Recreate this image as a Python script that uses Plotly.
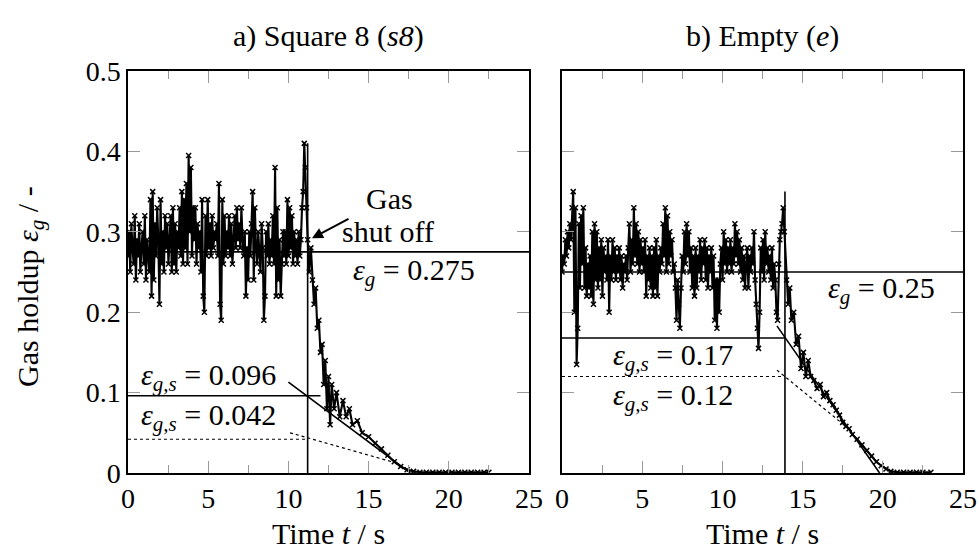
import plotly.graph_objects as go

# ---------------- data ----------------
# a) Square 8 (s8): time [s], gas holdup [-]
t_a = [0.00, 0.07, 0.14, 0.21, 0.28, 0.35, 0.42, 0.49, 0.56, 0.63,
       0.70, 0.77, 0.84, 0.91, 0.98, 1.05, 1.12, 1.19, 1.26, 1.33,
       1.40, 1.47, 1.54, 1.61, 1.68, 1.75, 1.82, 1.89, 1.96, 2.03,
       2.10, 2.17, 2.24, 2.31, 2.38, 2.45, 2.52, 2.59, 2.66, 2.73,
       2.80, 2.87, 2.94, 3.01, 3.08, 3.15, 3.22, 3.29, 3.36, 3.43,
       3.50, 3.57, 3.64, 3.71, 3.78, 3.85, 3.92, 3.99, 4.06, 4.13,
       4.20, 4.27, 4.34, 4.41, 4.48, 4.55, 4.62, 4.69, 4.76, 4.83,
       4.90, 4.97, 5.04, 5.11, 5.18, 5.25, 5.32, 5.39, 5.46, 5.53,
       5.60, 5.67, 5.74, 5.81, 5.88, 5.95, 6.02, 6.09, 6.16, 6.23,
       6.30, 6.37, 6.44, 6.51, 6.58, 6.65, 6.72, 6.79, 6.86, 6.93,
       7.00, 7.07, 7.14, 7.21, 7.28, 7.35, 7.42, 7.49, 7.56, 7.63,
       7.70, 7.77, 7.84, 7.91, 7.98, 8.05, 8.12, 8.19, 8.26, 8.33,
       8.40, 8.47, 8.54, 8.61, 8.68, 8.75, 8.82, 8.89, 8.96, 9.03,
       9.10, 9.17, 9.24, 9.31, 9.38, 9.45, 9.52, 9.59, 9.66, 9.73,
       9.80, 9.87, 9.94, 10.01, 10.08, 10.15, 10.22, 10.29, 10.36, 10.43,
       10.50, 10.57, 10.64, 10.71, 10.78, 10.85, 10.92, 10.99, 11.06, 11.13,
       11.20, 11.30, 11.40, 11.50, 11.60, 11.70, 11.80, 11.90, 12.00,
       12.10, 12.20, 12.30, 12.40, 12.50, 12.60, 12.70, 12.85, 13.00, 13.20, 13.40, 13.60, 13.80, 14.00, 14.30,
       14.60, 15.00, 15.40, 15.80, 16.20, 16.60, 17.00, 17.40, 17.80, 18.20, 18.60, 19.00, 19.40, 19.80, 20.20,
       20.60, 21.00, 21.40, 21.80, 22.20, 22.50]
eg_a = [0.27, 0.30, 0.25, 0.31, 0.28, 0.26, 0.32, 0.24, 0.29, 0.27,
        0.31, 0.25, 0.28, 0.30, 0.26, 0.32, 0.24, 0.29, 0.27, 0.25,
        0.34, 0.22, 0.35, 0.24, 0.31, 0.27, 0.33, 0.29, 0.21, 0.34,
        0.26, 0.30, 0.25, 0.32, 0.28, 0.31, 0.26, 0.29, 0.32, 0.25,
        0.33, 0.26, 0.31, 0.25, 0.30, 0.28, 0.33, 0.27, 0.35, 0.26,
        0.34, 0.28, 0.36, 0.26, 0.395, 0.30, 0.38, 0.27, 0.33, 0.29,
        0.33, 0.26, 0.31, 0.28, 0.30, 0.25, 0.34, 0.22, 0.20, 0.32,
        0.27, 0.34, 0.28, 0.31, 0.27, 0.32, 0.28, 0.30, 0.29, 0.31,
        0.27, 0.36, 0.21, 0.19, 0.34, 0.26, 0.32, 0.27, 0.30, 0.28,
        0.32, 0.27, 0.31, 0.26, 0.29, 0.32, 0.28, 0.33, 0.29, 0.31,
        0.28, 0.33, 0.29, 0.27, 0.30, 0.22, 0.28, 0.24, 0.30, 0.27,
        0.31, 0.35, 0.24, 0.33, 0.28, 0.26, 0.30, 0.27, 0.25, 0.31,
        0.28, 0.19, 0.22, 0.30, 0.27, 0.31, 0.26, 0.29, 0.27, 0.32,
        0.26, 0.38, 0.22, 0.33, 0.24, 0.29, 0.22, 0.26, 0.30, 0.27,
        0.30, 0.26, 0.34, 0.27, 0.33, 0.28, 0.32, 0.26, 0.30, 0.27,
        0.29, 0.26, 0.30, 0.27, 0.29, 0.33, 0.35, 0.41, 0.38, 0.33,
        0.29, 0.25, 0.28, 0.24, 0.21, 0.23, 0.18, 0.19, 0.15,
        0.16, 0.11, 0.14, 0.08, 0.12, 0.06, 0.11, 0.08, 0.10, 0.07, 0.09, 0.07, 0.08, 0.06, 0.065,
        0.05, 0.045, 0.037, 0.030, 0.022, 0.014, 0.008, 0.004, 0.002, 0.001, 0.001, 0.001, 0.001, 0.001, 0.001,
        0.001, 0.001, 0.001, 0.001, 0.001, 0.001]

# b) Empty (e)
t_b = [0.00, 0.07, 0.14, 0.21, 0.28, 0.35, 0.42, 0.49, 0.56, 0.63,
       0.70, 0.77, 0.84, 0.91, 0.98, 1.05, 1.12, 1.19, 1.26, 1.33,
       1.40, 1.47, 1.54, 1.61, 1.68, 1.75, 1.82, 1.89, 1.96, 2.03,
       2.10, 2.17, 2.24, 2.31, 2.38, 2.45, 2.52, 2.59, 2.66, 2.73,
       2.80, 2.87, 2.94, 3.01, 3.08, 3.15, 3.22, 3.29, 3.36, 3.43,
       3.50, 3.57, 3.64, 3.71, 3.78, 3.85, 3.92, 3.99, 4.06, 4.13,
       4.20, 4.27, 4.34, 4.41, 4.48, 4.55, 4.62, 4.69, 4.76, 4.83,
       4.90, 4.97, 5.04, 5.11, 5.18, 5.25, 5.32, 5.39, 5.46, 5.53,
       5.60, 5.67, 5.74, 5.81, 5.88, 5.95, 6.02, 6.09, 6.16, 6.23,
       6.30, 6.37, 6.44, 6.51, 6.58, 6.65, 6.72, 6.79, 6.86, 6.93,
       7.00, 7.07, 7.14, 7.21, 7.28, 7.35, 7.42, 7.49, 7.56, 7.63,
       7.70, 7.77, 7.84, 7.91, 7.98, 8.05, 8.12, 8.19, 8.26, 8.33,
       8.40, 8.47, 8.54, 8.61, 8.68, 8.75, 8.82, 8.89, 8.96, 9.03,
       9.10, 9.17, 9.24, 9.31, 9.38, 9.45, 9.52, 9.59, 9.66, 9.73,
       9.80, 9.87, 9.94, 10.01, 10.08, 10.15, 10.22, 10.29, 10.36, 10.43,
       10.50, 10.57, 10.64, 10.71, 10.78, 10.85, 10.92, 10.99, 11.06, 11.13,
       11.20, 11.27, 11.34, 11.41, 11.48, 11.55, 11.62, 11.69, 11.76, 11.83,
       11.90, 11.97, 12.04, 12.11, 12.18, 12.25, 12.32, 12.39, 12.46, 12.53,
       12.60, 12.67, 12.74, 12.81, 12.88, 12.95, 13.02, 13.09, 13.16, 13.23,
       13.30, 13.37, 13.44, 13.51, 13.58, 13.65, 13.72, 13.79, 13.86,
       14.00, 14.10, 14.20, 14.30, 14.45, 14.60, 14.75, 14.90, 15.05, 15.20, 15.35,
       15.50, 15.70, 15.90, 16.10, 16.30, 16.50, 16.70, 16.90, 17.10, 17.30, 17.50, 17.70, 17.90, 18.10, 18.40,
       18.70, 19.00, 19.30, 19.60, 19.90, 20.20, 20.50, 20.90, 21.30, 21.70, 22.10, 22.50, 23.00]
eg_b = [0.25, 0.27, 0.26, 0.29, 0.27, 0.30, 0.28, 0.31, 0.29, 0.33,
        0.35, 0.20, 0.33, 0.135, 0.18, 0.31, 0.23, 0.32, 0.26, 0.33,
        0.23, 0.28, 0.22, 0.26, 0.23, 0.27, 0.22, 0.30, 0.21, 0.31,
        0.24, 0.30, 0.23, 0.28, 0.24, 0.29, 0.22, 0.28, 0.25, 0.27,
        0.24, 0.29, 0.20, 0.27, 0.24, 0.29, 0.25, 0.28, 0.24, 0.27,
        0.25, 0.28, 0.24, 0.27, 0.23, 0.26, 0.25, 0.27, 0.24, 0.28,
        0.31, 0.25, 0.29, 0.26, 0.33, 0.27, 0.31, 0.26, 0.30, 0.25,
        0.29, 0.26, 0.28, 0.25, 0.29, 0.22, 0.27, 0.24, 0.28, 0.23,
        0.27, 0.22, 0.28, 0.23, 0.29, 0.22, 0.27, 0.25, 0.28, 0.26,
        0.31, 0.27, 0.33, 0.25, 0.32, 0.26, 0.30, 0.27, 0.29, 0.25,
        0.26, 0.23, 0.19, 0.24, 0.21, 0.18, 0.23, 0.27, 0.25, 0.30,
        0.26, 0.31, 0.27, 0.30, 0.25, 0.28, 0.23, 0.27, 0.22, 0.28,
        0.23, 0.27, 0.25, 0.29, 0.24, 0.28, 0.26, 0.29, 0.24, 0.28,
        0.23, 0.27, 0.25, 0.28, 0.23, 0.27, 0.19, 0.24, 0.18, 0.24,
        0.20, 0.26, 0.28, 0.24, 0.30, 0.26, 0.29, 0.25, 0.28, 0.26,
        0.29, 0.25, 0.28, 0.26, 0.31, 0.27, 0.30, 0.26, 0.29, 0.25,
        0.28, 0.24, 0.27, 0.23, 0.26, 0.28, 0.23, 0.27, 0.25, 0.28,
        0.26, 0.30, 0.24, 0.21, 0.18, 0.155, 0.20, 0.28, 0.25, 0.29,
        0.24, 0.30, 0.26, 0.28, 0.25, 0.27, 0.24, 0.28, 0.23, 0.26,
        0.24, 0.20, 0.19, 0.26, 0.29, 0.30, 0.31, 0.33, 0.30,
        0.24, 0.21, 0.23, 0.19, 0.20, 0.16, 0.17, 0.13, 0.15, 0.12, 0.14,
        0.12, 0.115, 0.105, 0.11, 0.095, 0.10, 0.09, 0.085, 0.078, 0.072, 0.063, 0.058, 0.055, 0.048, 0.042,
        0.035, 0.028, 0.021, 0.014, 0.009, 0.005, 0.002, 0.001, 0.001, 0.001, 0.001, 0.001, 0.001]

# reference lines (a)
shutoff_a = 11.2
peak_a = 0.41
eg_mean_a = 0.275
egs_solid_a = 0.096
egs_solid_end_a = 12.0
tangent_solid_a_t = [10.0, 17.6]
tangent_solid_a_y = [0.113, 0.0]
egs_dot_a = 0.042
tangent_dot_a_t = [10.1, 16.5]
tangent_dot_a_y = [0.050, 0.0137]

# reference lines (b)
shutoff_b = 13.9
peak_b = 0.35
eg_mean_b = 0.25
egs_solid_b = 0.168
tangent_solid_b_t = [13.4, 19.8]
tangent_solid_b_y = [0.183, 0.0]
egs_dot_b = 0.12
tangent_dot_b_t = [13.4, 18.0]
tangent_dot_b_y = [0.128, 0.053]

x_range = [0, 25]
y_range = [0, 0.5]
x_ticks = [0, 5, 10, 15, 20, 25]
y_ticks = [0, 0.1, 0.2, 0.3, 0.4, 0.5]
y_ticktext = ["0", "0.1", "0.2", "0.3", "0.4", "0.5"]

FONT = "Liberation Serif"
FS = 28
FS_TXT = 30
BLACK = "#000000"

fig = go.Figure()

def add_data(t, y, xa, ya):
    fig.add_trace(go.Scatter(x=t, y=y, xaxis=xa, yaxis=ya, mode="lines+markers",
                             line=dict(color=BLACK, width=2.1),
                             marker=dict(symbol="x-thin", size=5, line=dict(color=BLACK, width=1.5)),
                             showlegend=False, hoverinfo="skip"))

def add_line(xs, ys, xa, ya, dash="solid", width=1.6):
    fig.add_trace(go.Scatter(x=xs, y=ys, xaxis=xa, yaxis=ya, mode="lines",
                             line=dict(color=BLACK, width=width, dash=dash),
                             showlegend=False, hoverinfo="skip"))

add_data(t_a, eg_a, "x", "y")
add_data(t_b, eg_b, "x2", "y2")

# panel a lines
add_line(x_range, [eg_mean_a, eg_mean_a], "x", "y")
add_line([shutoff_a, shutoff_a], [0, peak_a], "x", "y")
add_line([0, egs_solid_end_a], [egs_solid_a, egs_solid_a], "x", "y")
add_line(tangent_solid_a_t, tangent_solid_a_y, "x", "y")
add_line([0, shutoff_a], [egs_dot_a, egs_dot_a], "x", "y", dash="dot", width=1.2)
add_line(tangent_dot_a_t, tangent_dot_a_y, "x", "y", dash="dot", width=1.2)

# panel b lines
add_line(x_range, [eg_mean_b, eg_mean_b], "x2", "y2")
add_line([shutoff_b, shutoff_b], [0, peak_b], "x2", "y2")
add_line([0, shutoff_b], [egs_solid_b, egs_solid_b], "x2", "y2")
add_line(tangent_solid_b_t, tangent_solid_b_y, "x2", "y2")
add_line([0, shutoff_b], [egs_dot_b, egs_dot_b], "x2", "y2", dash="dot", width=1.2)
add_line(tangent_dot_b_t, tangent_dot_b_y, "x2", "y2", dash="dot", width=1.2)

axis_common = dict(showline=True, linecolor=BLACK, linewidth=1.5, mirror="allticks",
                   ticks="inside", tickcolor="#9a9a9a", tickwidth=1, ticklen=12,
                   showgrid=False, zeroline=False, automargin=False,
                   tickfont=dict(family=FONT, size=FS, color=BLACK))

xa = dict(axis_common, range=x_range, tickvals=x_ticks,
          minor=dict(ticks="inside", dtick=2.5, tick0=0, ticklen=8, tickcolor="#9a9a9a", tickwidth=1))
fig.update_layout(
    width=979, height=553,
    margin=dict(l=0, r=0, t=0, b=0, autoexpand=False),
    paper_bgcolor="white", plot_bgcolor="white",
    xaxis=dict(xa, domain=[128/979, 529/979], anchor="y"),
    xaxis2=dict(xa, domain=[562/979, 963/979], anchor="y2"),
    yaxis=dict(axis_common, range=y_range, tickvals=y_ticks, ticktext=y_ticktext,
               domain=[80/553, 482/553], anchor="x"),
    yaxis2=dict(axis_common, range=y_range, tickvals=y_ticks, showticklabels=False,
                domain=[80/553, 482/553], anchor="x2"),
)

def ann(text, x, y, xref, yref, size=FS_TXT, **kw):
    fig.add_annotation(text=text, x=x, y=y, xref=xref, yref=yref, showarrow=False,
                       xanchor="center", yanchor="middle",
                       font=dict(family=FONT, size=size, color=BLACK), **kw)

# titles
ann("a) Square 8 (<i>s8</i>)", 0.5 * (128 + 529) / 979, 1 - 36 / 553, "paper", "paper")
ann("b) Empty (<i>e</i>)", 0.5 * (562 + 963) / 979, 1 - 36 / 553, "paper", "paper")
ann("Time <i>t</i> / s", 0.5 * (128 + 529) / 979, 1 - 533 / 553, "paper", "paper")
ann("Time <i>t</i> / s", 0.5 * (562 + 963) / 979, 1 - 533 / 553, "paper", "paper")
ann("Gas holdup <i>ε</i><sub><i>g</i></sub> / -", 30 / 979, 1 - 287 / 553, "paper", "paper",
    textangle=-90)

# panel a labels
ann("Gas", 16.3, 0.341, "x", "y")
ann("shut off", 16.2, 0.300, "x", "y")
ann("<i>ε</i><sub><i>g</i></sub> = 0.275", 17.8, 0.250, "x", "y")
ann("<i>ε</i><sub><i>g,s</i></sub> = 0.096", 5.0, 0.119, "x", "y")
ann("<i>ε</i><sub><i>g,s</i></sub> = 0.042", 5.0, 0.070, "x", "y")
fig.add_annotation(x=11.47, y=0.292, ax=13.84, ay=0.317, xref="x", yref="y",
                   axref="x", ayref="y", text="", showarrow=True,
                   arrowhead=2, arrowsize=1.1, arrowwidth=2, arrowcolor=BLACK)

# panel b labels
ann("<i>ε</i><sub><i>g</i></sub> = 0.25", 19.9, 0.228, "x2", "y2")
ann("<i>ε</i><sub><i>g,s</i></sub> = 0.17", 6.9, 0.144, "x2", "y2")
ann("<i>ε</i><sub><i>g,s</i></sub> = 0.12", 6.9, 0.095, "x2", "y2")

fig.write_html("out.html")
